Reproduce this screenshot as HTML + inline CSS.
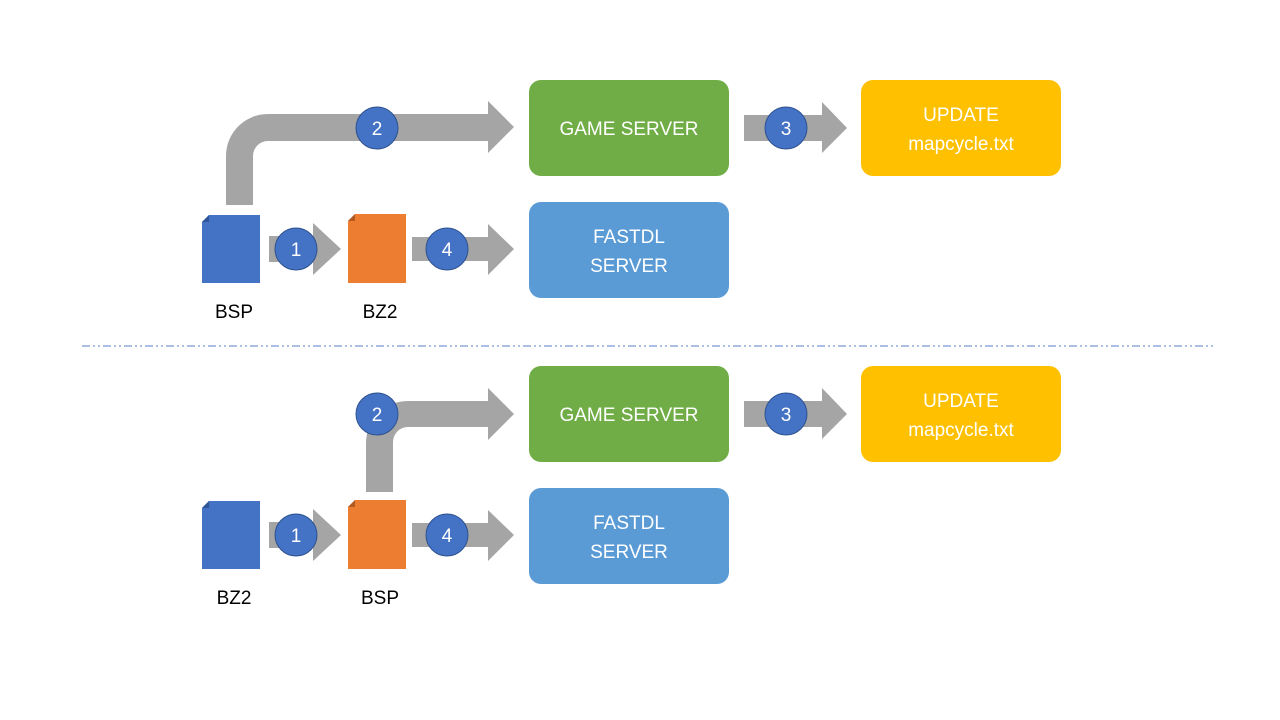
<!DOCTYPE html>
<html><head><meta charset="utf-8"><style>html,body{margin:0;padding:0;background:#fff}svg{display:block}</style></head>
<body>
<svg width="1280" height="720" xmlns="http://www.w3.org/2000/svg" font-family="Liberation Sans, sans-serif">
<defs>
<g id="common">
  <path d="M269 236 H313 V223 L341 249 L313 275 V262 H269 Z" fill="#a5a5a5"/>
  <path d="M412 237 H488 V224 L514 249 L488 275 V261 H412 Z" fill="#a5a5a5"/>
  <path d="M744 115 H822 V102 L847 128 L822 153 V141 H744 Z" fill="#a5a5a5"/>
  <path d="M202 222 L209 215 H260 V283 H202 Z" fill="#4472c4"/>
  <path d="M202 222 L209 215 V222 Z" fill="#2f5597"/>
  <path d="M348 221 L355 214 H406 V283 H348 Z" fill="#ed7d31"/>
  <path d="M348 221 L355 214 V221 Z" fill="#ae5a21"/>
  <rect x="529" y="80" width="200" height="96" rx="12" fill="#70ad47"/>
  <rect x="861" y="80" width="200" height="96" rx="12" fill="#ffc000"/>
  <rect x="529" y="202" width="200" height="96" rx="12" fill="#5b9bd5"/>
  <g fill="#fff" font-size="19" text-anchor="middle">
    <text x="629" y="135">GAME SERVER</text>
    <text x="961" y="121">UPDATE</text>
    <text x="961" y="150">mapcycle.txt</text>
    <text x="629" y="243">FASTDL</text>
    <text x="629" y="272">SERVER</text>
  </g>
  <g fill="#4472c4" stroke="#2f528f" stroke-width="1">
    <circle cx="296" cy="249" r="21"/>
    <circle cx="447" cy="249" r="21"/>
    <circle cx="786" cy="128" r="21"/>
  </g>
  <g fill="#fff" font-size="19" text-anchor="middle">
    <text x="296" y="256">1</text>
    <text x="447" y="256">4</text>
    <text x="786" y="135">3</text>
  </g>
</g>
</defs>

<path d="M226 205 V156 A42 42 0 0 1 268 114 H488 V101 L514 127 L488 153 V141 H268 A15 15 0 0 0 253 156 V205 Z" fill="#a5a5a5"/>
<use href="#common"/>
<circle cx="377" cy="128" r="21" fill="#4472c4" stroke="#2f528f"/>
<text x="377" y="135" fill="#fff" font-size="19" text-anchor="middle">2</text>
<g fill="#000" font-size="19" text-anchor="middle">
  <text x="234" y="318">BSP</text>
  <text x="380" y="318">BZ2</text>
</g>

<line x1="82" y1="346" x2="1216" y2="346" stroke="#7a98d4" stroke-width="1.3" stroke-dasharray="8 3 2 3 2 3"/>

<path d="M366 492 V443 A42 42 0 0 1 408 401 H488 V388 L514 414 L488 440 V427 H408 A15 15 0 0 0 393 442 V492 Z" fill="#a5a5a5"/>
<use href="#common" y="286"/>
<circle cx="377" cy="414" r="21" fill="#4472c4" stroke="#2f528f"/>
<text x="377" y="421" fill="#fff" font-size="19" text-anchor="middle">2</text>
<g fill="#000" font-size="19" text-anchor="middle">
  <text x="234" y="604">BZ2</text>
  <text x="380" y="604">BSP</text>
</g>
</svg>
</body></html>
